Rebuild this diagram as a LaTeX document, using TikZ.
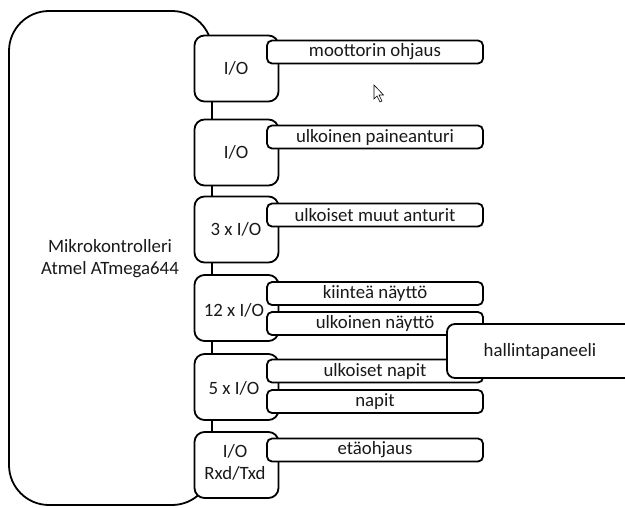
\documentclass[tikz,border=0pt]{standalone}
\usepackage{fontspec}
\setmainfont{Carlito}
\begin{document}
\begin{tikzpicture}[x=1pt,y=-1pt,
  line width=1.8pt,
  every node/.style={font=\fontsize{18.8}{22}\selectfont, text=black!90},
  mcu/.style={draw, rounded corners=40pt},
  iobox/.style={draw, fill=white, rounded corners=10pt, minimum width=84pt, minimum height=66pt, inner sep=0pt, align=center},
  dev/.style={draw, fill=white, rounded corners=5pt, minimum width=216pt, minimum height=23pt, inner sep=0pt},
  panel/.style={draw, fill=white, rounded corners=8pt, minimum width=186pt, minimum height=54pt, inner sep=0pt}
]
\useasboundingbox (0,0) rectangle (625,507);
\clip (0,0) rectangle (625,507);

% microcontroller body
\draw[mcu] (9,11) rectangle (212,505);
\node[align=center] (mcutext) at (110,259) {Mikrokontrolleri\\Atmel ATmega644};

% I/O port groups
\node[iobox] (io1) at (236.5,68.5) {};
\node[iobox] (io2) at (236.5,152.5) {};
\node[iobox] (io3) at (236.5,229.5) {};
\node[iobox] (io4) at (236.5,308) {};
\node[iobox] (io5) at (236.5,387) {};
\node[iobox] (io6) at (236.5,465) {};

% attached devices
\node[dev] (d1) at (375,52) {moottorin ohjaus};
\node[dev] (d2) at (375,137) {ulkoinen paineanturi};
\node[dev] (d3) at (375,215) {ulkoiset muut anturit};
\node[dev] (d4) at (375,293.5) {kiinteä näyttö};
\node[dev] (d5) at (375,323.5) {ulkoinen näyttö};
\node[dev] (d6) at (375,371) {ulkoiset napit};
\node[dev] (d7) at (375,401.5) {napit};
\node[dev] (d8) at (375,450) {etäohjaus};

% control panel groups the display and buttons
\node[panel] (pnl) at (540,351) {hallintapaneeli};

% port labels
\node (l1) at (236,68) {I/O};
\node (l2) at (236,152) {I/O};
\node (l3) at (236,229) {3 x I/O};
\node (l4) at (234,310) {12 x I/O};
\node (l5) at (234,388) {5 x I/O};
\node[align=center] (l6) at (235,462) {I/O\\Rxd/Txd};

% mouse pointer
\draw[line width=0.6pt, fill=white, line join=miter]
  (374,85) -- (374,99) -- (377,96) -- (380,102) -- (382,101) -- (379,95) -- (383.5,95) -- cycle;
\end{tikzpicture}
\end{document}
